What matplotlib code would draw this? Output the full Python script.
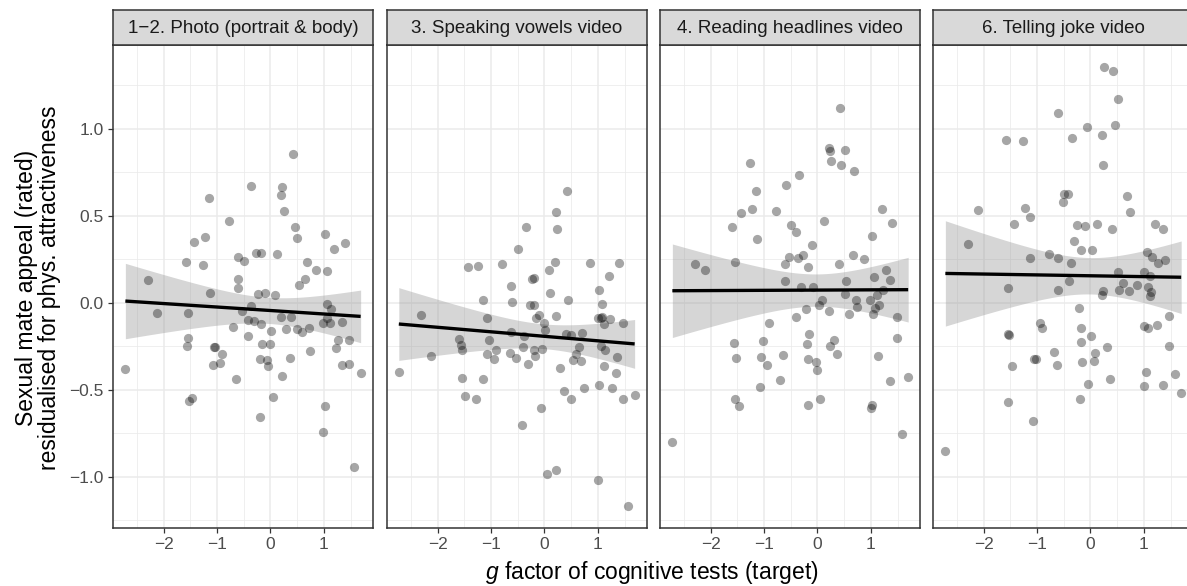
import numpy as np
import matplotlib
matplotlib.use("Agg")
import matplotlib.pyplot as plt

plt.rcParams['font.family'] = ['Liberation Sans', 'DejaVu Sans']
plt.rcParams['mathtext.fontset'] = 'custom'
plt.rcParams['mathtext.it'] = 'Liberation Sans:italic'
plt.rcParams['mathtext.rm'] = 'Liberation Sans'

panel_titles = ["1\u22122. Photo (portrait & body)", "3. Speaking vowels video",
                "4. Reading headlines video", "6. Telling joke video"]

x_photo = [-2.72, -2.29, -2.12, -1.59, -1.43, -1.23, -1.15, -1.27, -1.55, -1.54, -1.56, -1.47, -1.53,
           -1.14, -1.06, -1.04, -0.91, -1.08, -0.94, -0.78, -0.61, -0.50, -0.61, -0.61, -0.70, -0.64,
           -0.53, -0.36, -0.27, -0.18, -0.36, -0.42, -0.30, -0.18, -0.42, -0.23, -0.10, -0.16, 0.00,
           -0.19, -0.06, -0.04, -0.19, 0.05, 0.01, 0.09, 0.12, 0.22, 0.20, 0.25, 0.43, 0.20, 0.39,
           0.30, 0.22, 0.36, 0.46, 0.50, 0.69, 0.64, 0.53, 0.50, 0.59, 0.72, 0.75, 0.86, 1.02, 1.05,
           1.06, 1.14, 0.99, 1.11, 1.19, 1.39, 1.34, 1.27, 1.23, 1.48, 1.34, 1.48, 1.69, 1.02, 0.99,
           1.57, 1.06]
y_photo = [-0.377, 0.130, -0.059, 0.236, 0.349, 0.381, 0.603, 0.220, -0.059, -0.201, -0.245, -0.544,
           -0.565, 0.057, -0.255, -0.255, -0.293, -0.358, -0.345, 0.469, 0.264, 0.241, 0.140, 0.084,
           -0.140, -0.435, -0.048, 0.670, 0.285, 0.285, -0.019, -0.100, -0.105, -0.121, -0.192, 0.054,
           0.057, -0.234, -0.238, -0.324, -0.326, -0.360, -0.653, -0.542, -0.163, 0.044, 0.284, 0.665,
           0.621, 0.529, 0.853, -0.080, -0.082, -0.149, -0.420, -0.316, 0.437, 0.374, 0.238, 0.140,
           0.103, -0.148, -0.169, -0.142, -0.276, 0.188, 0.395, 0.186, -0.004, -0.033, -0.113, -0.113,
           0.312, 0.345, -0.107, -0.213, -0.261, -0.211, -0.358, -0.351, -0.400, -0.590, -0.743,
           -0.943, -0.086]

x_vowels = [-2.73, -2.31, -2.12, -1.60, -1.57, -1.55, -1.44, -1.24, -1.54, -1.49, -1.28, -1.15, -1.16,
            -1.08, -1.04, -1.07, -0.95, -0.90, -0.79, -0.62, -0.61, -0.50, -0.35, -0.64, -0.53, -0.41,
            -0.31, -0.43, -0.38, -0.63, -0.23, -0.19, -0.27, -0.19, -0.16, -0.11, -0.19, -0.18, -0.04,
            0.00, 0.01, -0.07, 0.04, 0.22, 0.08, 0.11, 0.20, 0.22, 0.24, 0.42, 0.45, 0.21, 0.30, 0.37,
            0.49, 0.40, 0.50, 0.53, 0.60, 0.64, 0.68, 0.71, 0.86, 0.74, 1.02, 1.07, 1.00, 1.08, 1.11,
            1.23, 1.05, 1.13, 1.11, 1.03, 1.00, 1.20, 1.39, 1.48, 1.35, 1.34, 1.27, 1.47, 1.69, 1.57,
            1.05]
y_vowels = [-0.395, -0.067, -0.307, -0.209, -0.243, -0.268, 0.205, 0.215, -0.429, -0.536, -0.554,
            -0.439, 0.015, -0.088, -0.213, -0.291, -0.320, -0.272, 0.226, 0.096, 0.008, 0.308, 0.439,
            -0.285, -0.314, -0.255, -0.351, -0.701, -0.192, -0.169, 0.136, 0.144, -0.011, -0.010,
            -0.088, -0.071, -0.268, -0.303, -0.264, -0.115, -0.157, -0.603, -0.981, -0.960, 0.190,
            0.056, 0.234, 0.525, 0.427, 0.642, 0.017, -0.077, -0.372, -0.508, -0.550, -0.176, -0.182,
            -0.330, -0.291, -0.255, -0.335, -0.174, 0.228, -0.490, 0.073, -0.008, -0.088, -0.080,
            -0.119, -0.092, -0.249, -0.272, -0.362, -0.469, -1.015, 0.153, 0.228, -0.117, -0.310,
            -0.400, -0.490, -0.554, -0.529, -1.167, -0.088]

x_headlines = [-2.72, -2.30, -2.11, -1.60, -1.55, -1.44, -1.26, -1.23, -1.15, -1.14, -1.56, -1.53, -1.54,
               -1.48, -1.03, -1.05, -0.94, -1.07, -0.90, -0.77, -0.59, -0.35, -0.50, -0.41, -0.61, -0.53,
               -0.37, -0.27, -0.10, -0.17, -0.60, -0.30, -0.08, -0.64, -0.70, -0.40, -0.22, -0.15, -0.19,
               -0.18, -0.03, 0.00, -0.18, 0.05, 0.02, 0.09, 0.12, 0.22, 0.24, 0.25, 0.43, 0.51, 0.45,
               0.69, 0.22, 0.23, 0.31, 0.37, 0.40, 0.54, 0.51, 0.66, 0.72, 0.75, 0.59, 0.87, 1.03, 1.21,
               1.40, 1.05, 0.98, 1.11, 1.04, 1.16, 1.28, 1.35, 1.23, 1.49, 1.49, 1.13, 1.36, 1.70, 1.03,
               1.00, 1.59, 1.07]
y_headlines = [-0.801, 0.226, 0.192, 0.439, 0.238, 0.517, 0.803, 0.542, 0.642, 0.370, -0.230, -0.318,
               -0.554, -0.592, -0.216, -0.312, -0.356, -0.485, -0.115, 0.529, 0.676, 0.734, 0.448, 0.406,
               0.222, 0.264, 0.261, 0.278, 0.333, 0.205, 0.125, 0.090, 0.092, -0.299, -0.444, -0.082,
               -0.036, -0.176, -0.236, -0.324, -0.339, -0.387, -0.588, -0.552, -0.013, 0.015, 0.469,
               0.889, 0.872, 0.818, 1.121, 0.877, 0.795, 0.761, -0.048, -0.245, -0.213, -0.291, 0.226,
               0.125, 0.054, 0.278, 0.019, -0.021, -0.065, 0.251, 0.387, 0.542, 0.460, 0.148, 0.015,
               0.044, -0.063, -0.011, 0.188, 0.132, 0.077, -0.080, -0.201, -0.303, -0.446, -0.427,
               -0.588, -0.602, -0.755, -0.029]

x_joke = [-2.72, -2.29, -2.11, -1.59, -1.26, -1.43, -1.22, -1.14, -1.13, -1.54, -1.54, -1.53, -1.47, -1.54,
          -0.95, -0.91, -1.05, -1.03, -1.07, -0.60, -0.77, -0.60, -0.61, -0.52, -0.49, -0.42, -0.35, -0.36,
          -0.40, -0.69, -0.62, -0.30, -0.26, -0.10, -0.17, 0.02, -0.22, -0.17, -0.17, -0.15, -0.19, -0.07,
          0.01, 0.09, 0.06, -0.04, 0.12, 0.21, 0.24, 0.25, 0.43, 0.51, 0.46, 0.40, 0.23, 0.21, 0.31, 0.37,
          0.51, 0.53, 0.61, 0.69, 0.75, 0.72, 0.87, 1.05, 1.16, 1.27, 1.40, 1.21, 1.35, 1.01, 1.11, 1.07,
          1.14, 1.12, 1.01, 1.07, 1.24, 1.48, 1.48, 1.04, 1.00, 1.35, 1.58, 1.70]
y_joke = [-0.851, 0.339, 0.534, 0.935, 0.929, 0.452, 0.548, 0.496, 0.257, 0.088, -0.178, -0.182, -0.362,
          -0.569, -0.115, -0.144, -0.324, -0.320, -0.676, 1.090, 0.282, 0.257, 0.075, 0.580, 0.625, 0.628,
          0.950, 0.232, 0.124, -0.282, -0.358, 0.356, 0.450, 0.444, 0.307, 0.307, -0.027, -0.146, -0.226,
          -0.341, -0.552, 1.013, -0.190, -0.286, -0.331, -0.467, 0.452, 0.966, 0.795, 1.356, 1.330, 1.170,
          1.023, 0.427, 0.069, 0.046, -0.253, -0.437, 0.178, 0.077, 0.115, 0.613, 0.525, 0.067, 0.102,
          0.293, 0.262, 0.228, 0.247, 0.452, 0.425, 0.176, 0.153, 0.090, 0.063, 0.040, -0.130, -0.144,
          -0.125, -0.073, -0.247, -0.395, -0.479, -0.469, -0.408, -0.517]

panels_x = [x_photo, x_vowels, x_headlines, x_joke]
panels_y = [y_photo, y_vowels, y_headlines, y_joke]

x_ticks = [-2, -1, 0, 1]
y_ticks = [-1.0, -0.5, 0.0, 0.5, 1.0]

W, H = 1187, 586
fig = plt.figure(figsize=(W / 100, H / 100), dpi=100)

# axis limits with ggplot-like 5% expansion over all data
allx = np.concatenate([np.array(v) for v in panels_x])
ally = np.concatenate([np.array(v) for v in panels_y])
xr = allx.max() - allx.min()
yr = ally.max() - ally.min()
xlim = (allx.min() - 0.05 * xr, allx.max() + 0.05 * xr)
ylim = (ally.min() - 0.05 * yr, ally.max() + 0.05 * yr)

lefts = [113, 387, 660, 933]
pw = 260
top_px, bot_px = 45, 528
strip_top = 10
grid_col = '#EBEBEB'
border_col = '#333333'

for i, (xs, ys) in enumerate(zip(panels_x, panels_y)):
    xs = np.array(xs)
    ys = np.array(ys)
    ax = fig.add_axes([lefts[i] / W, 1 - bot_px / H, pw / W, (bot_px - top_px) / H])
    ax.set_xlim(xlim)
    ax.set_ylim(ylim)
    ax.set_facecolor('white')
    # grid
    ax.set_xticks(x_ticks)
    ax.set_yticks(y_ticks)
    ax.set_xticks(np.arange(-2.5, 2.0, 1.0), minor=True)
    ax.set_yticks(np.arange(-1.25, 1.5, 0.5), minor=True)
    ax.grid(which='major', color=grid_col, linewidth=1.1)
    ax.grid(which='minor', color=grid_col, linewidth=0.55)
    ax.set_axisbelow(True)
    ax.tick_params(which='minor', length=0)
    ax.tick_params(which='major', length=3.6, width=0.9, color=border_col,
                   labelsize=12.5, labelcolor='#4D4D4D', pad=3)
    ax.set_xticklabels(['\u22122', '\u22121', '0', '1'])
    if i == 0:
        ax.set_yticklabels(['\u22121.0', '\u22120.5', '0.0', '0.5', '1.0'])
    else:
        ax.tick_params(axis='y', length=0, labelleft=False)
    for s in ax.spines.values():
        s.set_color(border_col)
        s.set_linewidth(1.1)

    # linear fit with 95% CI
    n = len(xs)
    b, a = np.polyfit(xs, ys, 1)
    resid = ys - (a + b * xs)
    s_err = np.sqrt(np.sum(resid ** 2) / (n - 2))
    xg = np.linspace(xs.min(), xs.max(), 80)
    yg = a + b * xg
    sxx = np.sum((xs - xs.mean()) ** 2)
    se = s_err * np.sqrt(1 / n + (xg - xs.mean()) ** 2 / sxx)
    tq = 1.989
    ax.fill_between(xg, yg - tq * se, yg + tq * se, color='#999999', alpha=0.4,
                    linewidth=0, zorder=2)
    ax.scatter(xs, ys, s=44, color='black', alpha=0.35, linewidths=0, zorder=3)
    ax.plot(xg, yg, color='black', linewidth=2.4, zorder=4, solid_capstyle='butt')

    # strip
    sax = fig.add_axes([lefts[i] / W, 1 - top_px / H, pw / W, (top_px - strip_top) / H])
    sax.set_xticks([])
    sax.set_yticks([])
    sax.set_facecolor('#D9D9D9')
    for s in sax.spines.values():
        s.set_color(border_col)
        s.set_linewidth(1.1)
    sax.text(0.5, 0.47, panel_titles[i], ha='center', va='center', fontsize=13.5,
             color='#1A1A1A', transform=sax.transAxes)

fig.text(652 / W, 1 - 572 / H, r'$\it{g}$ factor of cognitive tests (target)',
         ha='center', va='center', fontsize=16.5, color='black')
fig.text(38 / W, 1 - 288 / H, 'Sexual mate appeal (rated)\nresidualised for phys. attractiveness',
         ha='center', va='center', rotation=90, fontsize=16.5, color='black', linespacing=1.0)

fig.savefig('out.png', dpi=100)
